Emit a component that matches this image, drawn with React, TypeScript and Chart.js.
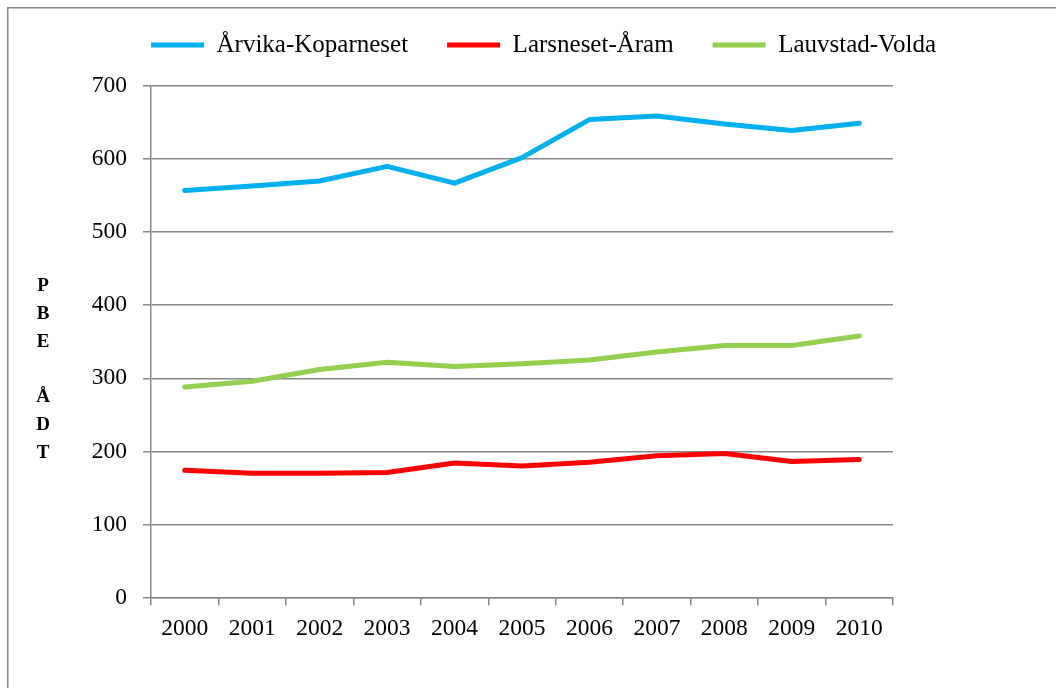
import React, { useEffect, useRef } from "react";
import { Chart, registerables } from "chart.js";

Chart.register(...registerables);

const years = ["2000", "2001", "2002", "2003", "2004", "2005", "2006", "2007", "2008", "2009", "2010"];
const arvikaKoparneset = [557, 563, 570, 590, 567, 602, 654, 659, 648, 639, 649];
const larsnesetAram = [174, 170, 170, 171, 184, 180, 185, 194, 197, 186, 189];
const lauvstadVolda = [288, 296, 312, 322, 316, 320, 325, 336, 345, 345, 358];
const seriesNames = ["Årvika-Koparneset", "Larsneset-Åram", "Lauvstad-Volda"];
const seriesColors = ["#00B0F0", "#FF0000", "#92D050"];
const yTitleLetters = ["P", "B", "E", "", "Å", "D", "T"];

const FONT = "'Liberation Serif', 'Times New Roman', serif";
const GRID = "#878787";
const W = 1049;
const H = 681;

const framePlugin = {
  id: "frame",
  afterDraw(chart: any) {
    const ctx = chart.ctx;
    ctx.save();
    ctx.strokeStyle = GRID;
    ctx.lineWidth = 1.5;
    ctx.beginPath();
    ctx.moveTo(0.75, H);
    ctx.lineTo(0.75, 0.75);
    ctx.lineTo(W, 0.75);
    ctx.stroke();
    // stacked y-axis title letters
    ctx.fillStyle = "#000";
    ctx.font = `bold 19px ${FONT}`;
    ctx.textAlign = "center";
    ctx.textBaseline = "middle";
    const top = chart.chartArea.top;
    yTitleLetters.forEach((ch, i) => {
      if (ch) ctx.fillText(ch, 36, top + 200 + i * 27.8);
    });
    ctx.restore();
  },
};

export default function App() {
  const ref = useRef<HTMLCanvasElement>(null);
  useEffect(() => {
    if (!ref.current) return;
    const data = [arvikaKoparneset, larsnesetAram, lauvstadVolda];
    const chart = new Chart(ref.current, {
      type: "line",
      data: {
        labels: years,
        datasets: seriesNames.map((name, i) => ({
          label: name,
          data: data[i],
          borderColor: seriesColors[i],
          backgroundColor: seriesColors[i],
          borderWidth: 5,
          pointRadius: 0,
          borderCapStyle: "round" as const,
          borderJoinStyle: "round" as const,
          tension: 0,
          yAxisID: "y",
        })),
      },
      options: {
        animation: false,
        responsive: false,
        layout: { padding: { top: -13.5, left: 24, right: 0, bottom: 0 } },
        plugins: {
          legend: {
            position: "top",
            labels: {
              font: { family: FONT, size: 25 },
              color: "#000",
              boxWidth: 53,
              boxHeight: 5,
              padding: 39,
              generateLabels: (c: any) =>
                c.data.datasets.map((d: any, i: number) => ({
                  text: d.label,
                  fillStyle: d.borderColor,
                  strokeStyle: d.borderColor,
                  lineWidth: 0,
                  hidden: false,
                  datasetIndex: i,
                  fontColor: "#000",
                })),
            },
          },
          subtitle: {
            display: true,
            text: " ",
            weight: 500,
            font: { size: 10 },
            padding: { top: 0, bottom: 6.5 },
          } as any,
          tooltip: { enabled: false },
        },
        scales: {
          x: {
            offset: true,
            grid: {
              offset: true,
              drawOnChartArea: false,
              drawTicks: true,
              tickLength: 8,
              color: GRID,
              lineWidth: 1.5,
            },
            border: { color: GRID, width: 1.5 },
            ticks: { color: "#000", font: { family: FONT, size: 23.5 }, padding: 9, maxRotation: 0 },
            afterFit: (s: any) => {
              s.height = 90.5;
            },
          },
          y: {
            min: 0,
            max: 700,
            position: "left",
            grid: { color: GRID, lineWidth: 1.5, tickLength: 8 },
            border: { color: GRID, width: 1.5 },
            ticks: { stepSize: 100, color: "#000", font: { family: FONT, size: 23.5 }, padding: 16 },
            afterFit: (s: any) => {
              s.width = 120;
            },
          },
          yRight: {
            type: "linear",
            position: "right",
            display: true,
            grid: { display: false, drawTicks: false },
            border: { display: false },
            ticks: { display: false },
            afterFit: (s: any) => {
              s.width = 163;
            },
          },
        },
      },
      plugins: [framePlugin],
    });
    return () => chart.destroy();
  }, []);
  return (
    <div style={{ position: "absolute", left: 7, top: 7, width: W, height: H }}>
      <canvas ref={ref} width={W} height={H} style={{ display: "block" }} />
    </div>
  );
}
